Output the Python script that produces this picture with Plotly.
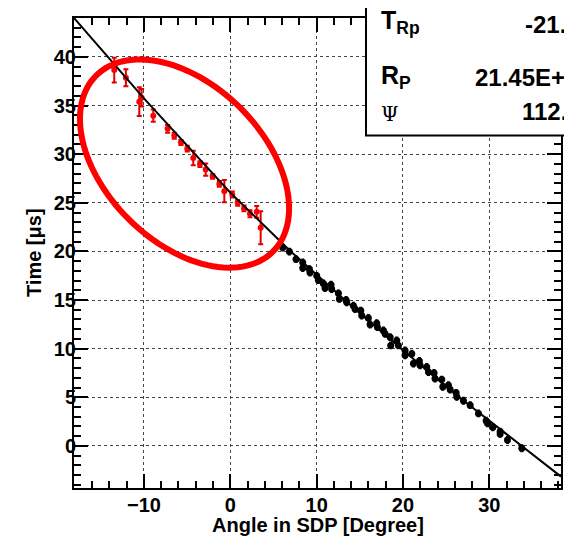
import numpy as np
import plotly.graph_objects as go

# ---------------------------------------------------------------------------
# Data (angle in SDP [deg], time [us], error [us])
# ---------------------------------------------------------------------------
red_angle = [-13.44, -12.09, -10.54, -10.27, -8.92, -7.26, -6.49, -5.71, -4.98,
             -4.29, -3.51, -2.85, -2.04, -1.27, -0.69, 0.23, 0.86, 1.59, 2.28,
             3.06, 3.52]
red_time = [38.64, 37.85, 35.40, 35.80, 33.96, 32.60, 31.89, 31.20, 30.56,
            29.60, 28.98, 28.41, 27.72, 26.94, 26.19, 25.85, 24.99, 24.42, 23.87,
            24.07, 22.44]
red_err = [1.27, 0.87, 1.48, 0.90, 0.63, 0.40, 0.30, 0.25, 0.30,
           0.75, 0.30, 0.63, 0.25, 0.30, 1.14, 0.30, 0.30, 0.30, 0.35,
           0.60, 1.70]

black_angle = [6.07, 6.84, 7.61, 8.39, 8.39, 9.16, 9.23, 10.01, 10.20, 10.78,
               10.97, 11.67, 11.74, 12.52, 12.63, 13.41, 13.48, 14.26, 14.45,
               15.11, 15.22, 15.99, 16.19, 16.96, 17.04, 17.73, 17.93, 18.51,
               18.58, 19.28, 19.47, 20.24, 20.24, 21.02, 21.21, 21.90, 21.98,
               22.75, 22.95, 23.60, 23.71, 24.49, 24.61, 25.26, 25.46, 26.15,
               26.23, 27.00, 27.78, 28.74, 29.63, 29.79, 30.40, 31.25, 31.25,
               32.10, 33.76]
black_time = [20.39, 19.98, 19.20, 18.86, 18.28, 18.18, 17.83, 17.49, 17.05, 16.71,
              16.23, 16.57, 16.13, 15.69, 15.11, 15.00, 14.77, 14.42, 14.08,
              13.91, 13.40, 13.16, 12.48, 12.62, 12.21, 11.87, 11.53, 11.18,
              10.33, 10.84, 10.33, 9.82, 9.31, 9.48, 8.46, 8.73, 8.29,
              8.12, 7.60, 7.50, 6.92, 6.82, 6.07, 6.24, 5.80, 5.46,
              5.05, 4.64, 4.19, 3.34, 2.59, 2.32, 1.91, 1.47, 1.23,
              0.61, -0.24]
black_err = 0.3

# fitted curve
fit_angle = [-18.1, -10.0, 0.0, 7.0, 14.0, 20.0, 27.0, 34.0, 38.3]
fit_time = [44.0, 35.74, 26.04, 20.0, 14.4, 9.84, 4.66, -0.24, -3.16]

stat_labels = ["T<sub>Rp</sub>", "R<sub>P</sub>", "\u03a8"]
stat_values = ["-21.", "21.45E+", "112."]

x_range = [-18.1, 38.3]
y_range = [-4.33, 44.0]

# ---------------------------------------------------------------------------
# Layout geometry (page body has an 8px margin, so the figure is shifted)
# ---------------------------------------------------------------------------
OFF = 8
W, H = 572 - OFF, 540 - OFF
ML, MR, MT, MB = 74 - OFF, 11, 16 - OFF, 52
plot_w = W - ML - MR
plot_h = H - MT - MB
px_x = plot_w / (x_range[1] - x_range[0])
px_y = plot_h / (y_range[1] - y_range[0])


def paper_x(px):
    # px given in reference-window pixels
    return (px - OFF - ML) / plot_w


def paper_y(py):
    return (H - MB - (py - OFF)) / plot_h


FONT = "Liberation Sans, Arial, Helvetica, sans-serif"

fig = go.Figure()

fig.add_trace(go.Scatter(
    x=black_angle, y=black_time, mode="markers",
    marker=dict(color="black", size=7),
    error_y=dict(type="constant", value=black_err, color="black",
                 thickness=2, width=1.5),
    showlegend=False,
))
fig.add_trace(go.Scatter(
    x=red_angle, y=red_time, mode="markers",
    marker=dict(color="#ff0000", size=6),
    error_y=dict(type="data", array=red_err, color="#e00000",
                 thickness=2, width=2.5),
    showlegend=False,
))
fig.add_trace(go.Scatter(
    x=fit_angle, y=fit_time, mode="lines",
    line=dict(color="black", width=2),
    showlegend=False,
))

# red ellipse marking the selected stations (pixel-space semi axes, tilted 45 deg)
cx, cy = -5.30, 29.03
a_px, b_px = 125, 79
t = np.linspace(0, 2 * np.pi, 121)
c45 = np.cos(np.pi / 4)
dx = a_px * np.cos(t) * c45 - b_px * np.sin(t) * c45
dy = a_px * np.cos(t) * c45 + b_px * np.sin(t) * c45
ex = cx + dx / px_x
ey = cy - dy / px_y
path = "M " + " L ".join(f"{u:.4f},{v:.4f}" for u, v in zip(ex, ey)) + " Z"
fig.add_shape(type="path", path=path, xref="x", yref="y",
              line=dict(color="#ff0000", width=6), layer="above")

axis_common = dict(
    showline=True, linecolor="black", linewidth=2, mirror="ticks",
    ticks="inside", ticklen=14, tickwidth=2, tickcolor="black",
    showgrid=True, gridcolor="#444444", griddash="dot", gridwidth=1,
    zeroline=False,
    tickfont=dict(family=FONT, size=20, color="black", weight="bold"),
)

fig.update_xaxes(
    range=x_range, tick0=0, dtick=10, ticklabelstandoff=-2,
    minor=dict(dtick=2, ticks="inside", ticklen=7, tickwidth=1.5,
               tickcolor="black", showgrid=False),
    **axis_common,
)
fig.update_yaxes(
    range=y_range, tick0=0, dtick=5, ticklabelstandoff=-8,
    minor=dict(dtick=1, ticks="inside", ticklen=7, tickwidth=1.5,
               tickcolor="black", showgrid=False),
    **axis_common,
)

# axis titles
fig.add_annotation(
    text="Angle in SDP [Degree]", xref="paper", yref="paper",
    x=0.5, y=paper_y(525), xanchor="center", yanchor="middle",
    showarrow=False,
    font=dict(family=FONT, size=20, color="black", weight="bold"),
)
fig.add_annotation(
    text="Time [\u03bcs]", xref="paper", yref="paper",
    x=paper_x(34), y=0.5, xanchor="center", yanchor="middle",
    textangle=-90, showarrow=False,
    font=dict(family=FONT, size=20, color="black", weight="bold"),
)

# stats box (runs off the top-right of the canvas)
fig.add_shape(type="rect", xref="paper", yref="paper",
              x0=paper_x(366), x1=paper_x(572 + 40),
              y0=paper_y(134), y1=paper_y(-20),
              line=dict(color="black", width=2), fillcolor="white",
              layer="above")

label_rows = [20, 75, 112]
value_rows = [23, 76, 110]
value_starts = [523, 473, 520]
for i, (lab, val) in enumerate(zip(stat_labels, stat_values)):
    is_psi = i == 2
    fig.add_annotation(
        text=lab, xref="paper", yref="paper",
        x=paper_x(379), y=paper_y(label_rows[i]),
        xanchor="left", yanchor="middle", showarrow=False,
        font=dict(family="DejaVu Serif, serif" if is_psi else FONT,
                  size=20 if is_psi else 25, color="black",
                  weight="normal" if is_psi else "bold"),
    )
    fig.add_annotation(
        text=val, xref="paper", yref="paper",
        x=paper_x(value_starts[i]), y=paper_y(value_rows[i]),
        xanchor="left", yanchor="middle", showarrow=False,
        font=dict(family=FONT, size=24, color="black", weight="bold"),
    )

fig.update_layout(
    width=W, height=H,
    margin=dict(l=ML, r=MR, t=MT, b=MB),
    paper_bgcolor="white", plot_bgcolor="white",
    showlegend=False,
)

fig.write_html("out.html")
